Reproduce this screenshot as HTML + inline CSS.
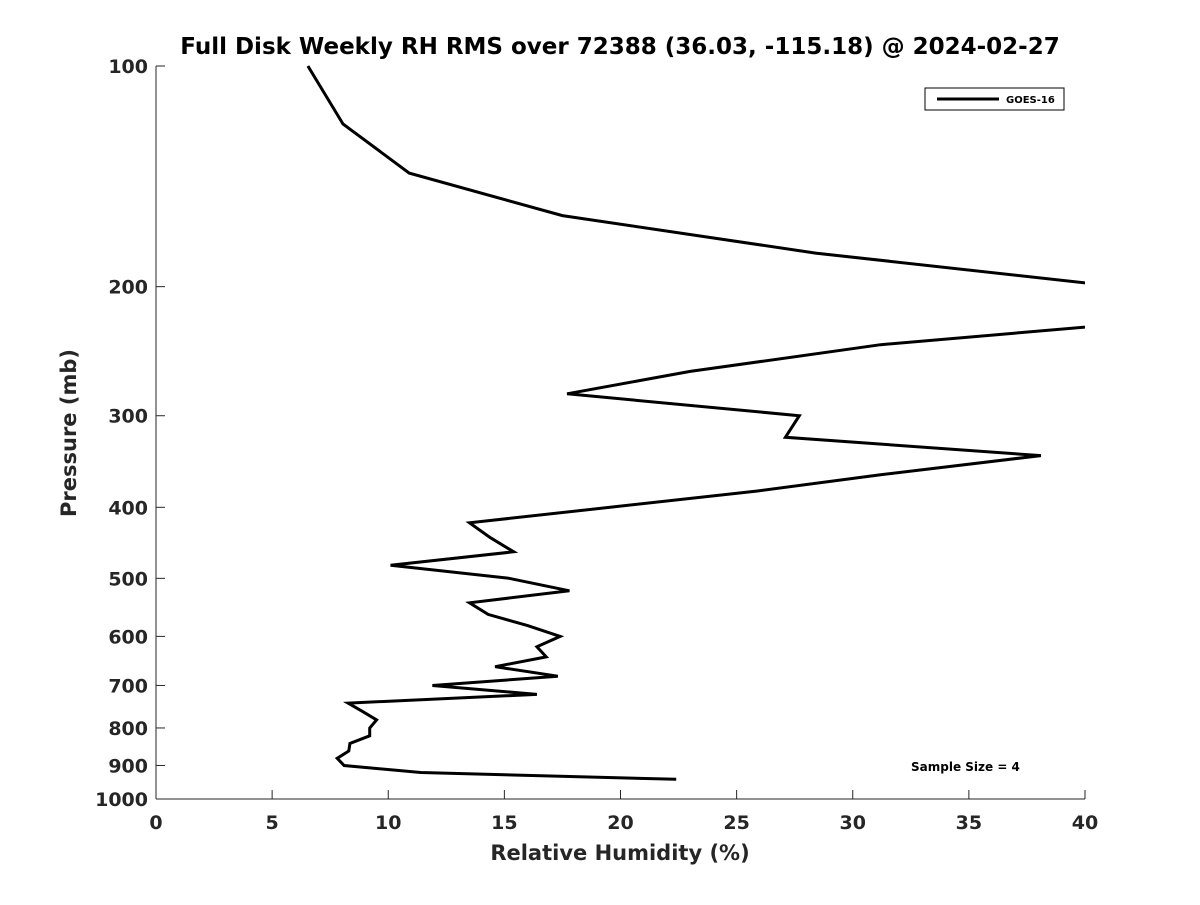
<!DOCTYPE html>
<html><head><meta charset="utf-8"><style>
body{margin:0;background:#fff}
svg text{font-family:"DejaVu Sans","Liberation Sans",sans-serif;font-weight:bold;fill:#262626}
</style></head><body>
<svg id="chart" width="1200" height="900" xmlns="http://www.w3.org/2000/svg">
<defs><clipPath id="plotclip"><rect x="156" y="60" width="929" height="740"/></clipPath></defs>
<text x="620" y="54" text-anchor="middle" font-size="23" style="fill:#000">Full Disk Weekly RH RMS over 72388 (36.03, -115.18) @ 2024-02-27</text>
<g id="axes"></g>
<polyline id="series" clip-path="url(#plotclip)" fill="none" stroke="#000" stroke-width="3" stroke-linejoin="miter"/>
<text x="620" y="860" text-anchor="middle" font-size="21">Relative Humidity (%)</text>
<text transform="translate(76,433) rotate(-90)" text-anchor="middle" font-size="21">Pressure (mb)</text>
<g>
<rect x="925" y="88" width="139" height="22" fill="#fff" stroke="#000" stroke-width="1"/>
<line x1="937" y1="99" x2="999" y2="99" stroke="#000" stroke-width="3"/>
<text x="1006" y="103" font-size="10" style="fill:#000">GOES-16</text>
</g>
<text x="911" y="771" font-size="12" style="fill:#000">Sample Size = 4</text>
</svg>
<script>
const pressures=[100,120,140,160,180,200,225,240,261,280,300,321,340,361,380,420,440,460,480,500,520,540,560,580,600,620,640,660,680,700,720,740,760,780,800,820,840,860,880,900,920,940];
const rhValues=[6.54,8.05,10.9,17.5,28.4,41.5,41.5,31.2,23.0,17.7,27.7,27.1,38.1,31.2,25.9,13.5,14.4,15.4,10.1,15.2,17.8,13.5,14.3,16.0,17.4,16.4,16.8,14.6,17.3,11.9,16.4,8.27,8.9,9.5,9.2,9.2,8.35,8.3,7.8,8.1,11.4,22.4];
const xTicks=[0,5,10,15,20,25,30,35,40];
const yTicks=[100,200,300,400,500,600,700,800,900,1000];
const X0=156,X1=1085,Y0=66,Y1=799;
const xs=v=>X0+(v-0)/40*(X1-X0);
const ys=p=>Y0+Math.log10(p/100)*(Y1-Y0);
const NS="http://www.w3.org/2000/svg";
const ax=document.getElementById('axes');
function mk(t,a){const e=document.createElementNS(NS,t);for(const k in a)e.setAttribute(k,a[k]);return e;}
let l=mk('line',{x1:X0,y1:Y0,x2:X0,y2:Y1,stroke:'#262626','stroke-width':1});


ax.appendChild(l);
l=mk('line',{x1:X0,y1:Y1,x2:X1,y2:Y1,stroke:'#262626','stroke-width':1});


ax.appendChild(l);
xTicks.forEach(v=>{
 const x=xs(v);
 const t=mk('line',{x1:x,y1:Y1,x2:x,y2:Y1-9,stroke:'#262626'});
 
 
 ax.appendChild(t);
 const s=mk('text',{x:x,y:Y1+30,'text-anchor':'middle','font-size':19});
 
 
 s.textContent=v;ax.appendChild(s);
});
yTicks.forEach(p=>{
 const y=ys(p);
 const t=mk('line',{x1:X0,y1:y,x2:X0+9,y2:y,stroke:'#262626'});
 
 
 ax.appendChild(t);
 const s=mk('text',{x:X0-8,y:y+7,'text-anchor':'end','font-size':19});
 
 
 s.textContent=p;ax.appendChild(s);
});
document.getElementById('series').setAttribute('points',pressures.map((p,i)=>xs(rhValues[i]).toFixed(1)+','+ys(p).toFixed(1)).join(' '));
</script>
</body></html>
